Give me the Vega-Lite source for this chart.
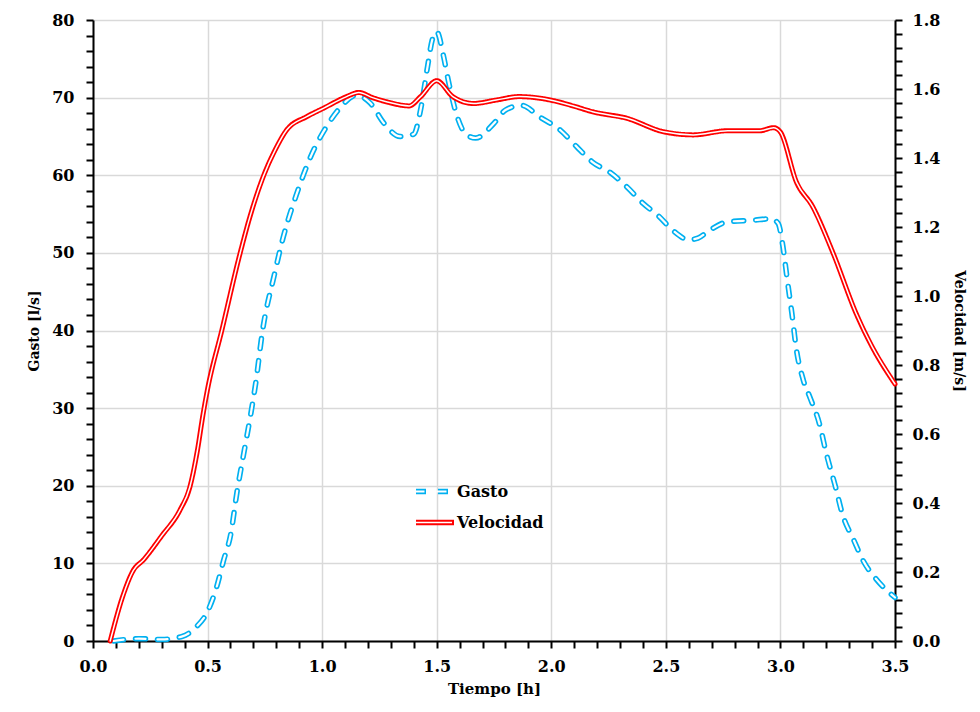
{
  "$schema": "https://vega.github.io/schema/vega-lite/v6.json",
  "width": 802,
  "height": 621,
  "autosize": {"type": "none"},
  "padding": {"left": 93, "top": 20, "right": 85, "bottom": 71},
  "background": "white",
  "config": {
    "view": {"stroke": null},
    "axis": {
      "labelFont": "DejaVu Serif", "labelFontSize": 16, "labelFontWeight": "bold", "labelColor": "#000", "labelFlush": false,
      "titleFont": "DejaVu Serif", "titleFontSize": 14, "titleFontWeight": "bold", "titleColor": "#000",
      "domainColor": "#000", "domainWidth": 2, "tickColor": "#000", "tickWidth": 2,
      "gridColor": "#d9d9d9", "gridWidth": 1.5
    },
    "legend": {"labelFont": "DejaVu Serif", "labelFontSize": 16, "labelFontWeight": "bold", "labelColor": "#000"}
  },
  "datasets": {
    "gasto": [
      {"t": 0.09, "g": 0}, {"t": 0.2, "g": 0.3}, {"t": 0.3, "g": 0.2}, {"t": 0.39, "g": 0.6},
      {"t": 0.45, "g": 1.8}, {"t": 0.5, "g": 3.8}, {"t": 0.54, "g": 7.0}, {"t": 0.57, "g": 10.4},
      {"t": 0.6, "g": 13.6}, {"t": 0.63, "g": 19.5}, {"t": 0.66, "g": 24.5}, {"t": 0.69, "g": 29.5},
      {"t": 0.71, "g": 33.2}, {"t": 0.74, "g": 40.0}, {"t": 0.79, "g": 47.0}, {"t": 0.83, "g": 52.0},
      {"t": 0.89, "g": 57.7}, {"t": 0.95, "g": 62.4}, {"t": 1.02, "g": 66.3}, {"t": 1.07, "g": 68.4},
      {"t": 1.15, "g": 70.3}, {"t": 1.21, "g": 69.3}, {"t": 1.27, "g": 66.7}, {"t": 1.34, "g": 65.0},
      {"t": 1.4, "g": 65.3}, {"t": 1.43, "g": 68.5}, {"t": 1.46, "g": 74.0}, {"t": 1.48, "g": 77.4},
      {"t": 1.5, "g": 78.5}, {"t": 1.53, "g": 75.3}, {"t": 1.55, "g": 72.3}, {"t": 1.59, "g": 67.5},
      {"t": 1.63, "g": 65.2}, {"t": 1.67, "g": 64.8}, {"t": 1.75, "g": 66.7}, {"t": 1.8, "g": 68.4},
      {"t": 1.87, "g": 69.0}, {"t": 1.95, "g": 67.5}, {"t": 2.04, "g": 65.8}, {"t": 2.11, "g": 63.7},
      {"t": 2.18, "g": 61.7}, {"t": 2.26, "g": 60.3}, {"t": 2.33, "g": 58.5}, {"t": 2.4, "g": 56.4},
      {"t": 2.47, "g": 54.7}, {"t": 2.53, "g": 52.9}, {"t": 2.6, "g": 51.7}, {"t": 2.64, "g": 51.9},
      {"t": 2.69, "g": 52.9}, {"t": 2.77, "g": 54.0}, {"t": 2.88, "g": 54.2}, {"t": 2.96, "g": 54.4},
      {"t": 2.99, "g": 53.8}, {"t": 3.01, "g": 51.0}, {"t": 3.03, "g": 46.5}, {"t": 3.05, "g": 42.2},
      {"t": 3.07, "g": 37.5}, {"t": 3.1, "g": 33.6}, {"t": 3.13, "g": 31.3}, {"t": 3.17, "g": 28.0},
      {"t": 3.2, "g": 24.2}, {"t": 3.24, "g": 19.9}, {"t": 3.27, "g": 16.4}, {"t": 3.32, "g": 13.0},
      {"t": 3.36, "g": 10.4}, {"t": 3.42, "g": 7.9}, {"t": 3.5, "g": 5.6}
    ],
    "vel": [
      {"t": 0.075, "v": 0}, {"t": 0.13, "v": 0.13}, {"t": 0.176, "v": 0.205}, {"t": 0.22, "v": 0.235},
      {"t": 0.3, "v": 0.305}, {"t": 0.38, "v": 0.38}, {"t": 0.423, "v": 0.447}, {"t": 0.455, "v": 0.55},
      {"t": 0.481, "v": 0.66}, {"t": 0.5, "v": 0.73}, {"t": 0.562, "v": 0.9}, {"t": 0.642, "v": 1.124},
      {"t": 0.685, "v": 1.23}, {"t": 0.743, "v": 1.346}, {"t": 0.8, "v": 1.43}, {"t": 0.845, "v": 1.481},
      {"t": 0.933, "v": 1.52}, {"t": 1.005, "v": 1.544}, {"t": 1.107, "v": 1.578}, {"t": 1.16, "v": 1.59},
      {"t": 1.22, "v": 1.575}, {"t": 1.28, "v": 1.563}, {"t": 1.38, "v": 1.551}, {"t": 1.43, "v": 1.578},
      {"t": 1.5, "v": 1.624}, {"t": 1.57, "v": 1.578}, {"t": 1.66, "v": 1.558}, {"t": 1.76, "v": 1.568},
      {"t": 1.86, "v": 1.578}, {"t": 2.01, "v": 1.566}, {"t": 2.1, "v": 1.55}, {"t": 2.18, "v": 1.534},
      {"t": 2.33, "v": 1.515}, {"t": 2.49, "v": 1.476}, {"t": 2.62, "v": 1.467}, {"t": 2.77, "v": 1.479},
      {"t": 2.91, "v": 1.479}, {"t": 2.97, "v": 1.488}, {"t": 3.0, "v": 1.475}, {"t": 3.07, "v": 1.33},
      {"t": 3.14, "v": 1.26}, {"t": 3.23, "v": 1.124}, {"t": 3.33, "v": 0.95}, {"t": 3.4, "v": 0.853},
      {"t": 3.5, "v": 0.745}
    ]
  },
  "encoding": {
    "x": {
      "field": "t", "type": "quantitative",
      "scale": {"domain": [0, 3.5], "nice": false, "zero": false},
      "axis": {
        "orient": "bottom",
        "title": "Tiempo [h]", "titleFontSize": 15, "titlePadding": 7,
        "values": [0,0.1,0.2,0.3,0.4,0.5,0.6,0.7,0.8,0.9,1,1.1,1.2,1.3,1.4,1.5,1.6,1.7,1.8,1.9,2,2.1,2.2,2.3,2.4,2.5,2.6,2.7,2.8,2.9,3,3.1,3.2,3.3,3.4,3.5],
        "format": ".1f",
        "labelExpr": "abs(datum.value*2 - round(datum.value*2)) < 0.001 ? datum.label : ''",
        "labelPadding": 10, "tickSize": 7,
        "grid": true,
        "gridOpacity": {"condition": {"test": "abs(datum.value*2 - round(datum.value*2)) < 0.001", "value": 1}, "value": 0},
        "encode": {
          "ticks": {
            "y": {"value": {"expr": "abs(datum.value*2 - round(datum.value*2)) < 0.001 ? -7 : -5"}},
            "y2": {"value": {"expr": "abs(datum.value*2 - round(datum.value*2)) < 0.001 ? 7 : 0"}}
          }
        }
      }
    }
  },
  "layer": [
    {
      "data": {"name": "gasto"},
      "encoding": {
        "y": {
          "field": "g", "type": "quantitative",
          "scale": {"domain": [0, 80], "nice": false},
          "axis": {
            "orient": "left", "title": "Gasto [l/s]", "titlePadding": 10,
            "values": [0,2,4,6,8,10,12,14,16,18,20,22,24,26,28,30,32,34,36,38,40,42,44,46,48,50,52,54,56,58,60,62,64,66,68,70,72,74,76,78,80],
            "labelExpr": "datum.value % 10 === 0 ? datum.label : ''",
            "labelPadding": 12, "tickSize": 7,
            "grid": true,
            "gridOpacity": {"condition": {"test": "datum.value % 10 === 0", "value": 1}, "value": 0},
            "encode": {
              "ticks": {
                "x": {"value": {"expr": "datum.value % 10 === 0 ? 7 : 5"}},
                "x2": {"value": {"expr": "datum.value % 10 === 0 ? -7 : 0"}}
              }
            }
          }
        }
      },
      "layer": [
        {
          "mark": {"type": "line", "interpolate": "monotone", "strokeWidth": 5.5, "strokeDash": [10, 12], "strokeCap": "round", "strokeJoin": "round"},
          "encoding": {
            "color": {"datum": "Gasto", "type": "nominal", "scale": {"domain": ["Gasto", "Velocidad"], "range": ["#00b0f0", "#ff0000"]},
              "legend": {"orient": "none", "legendX": 320, "legendY": 463, "title": null, "symbolType": "stroke", "symbolSize": 1444, "symbolStrokeWidth": 5.5, "clipHeight": 17, "rowPadding": 14, "labelOffset": 0}},
            "strokeDash": {"datum": "Gasto", "type": "nominal", "scale": {"domain": ["Gasto", "Velocidad"], "range": [[10, 12], [1, 0]]}, "legend": null}
          }
        },
        {
          "mark": {"type": "line", "interpolate": "monotone", "strokeWidth": 2.2, "strokeDash": [10, 12], "strokeCap": "round", "color": "white"},
          "encoding": {
            "opacity": {"datum": "G", "type": "nominal", "scale": {"domain": ["G"], "range": [1, 1]},
              "legend": {"orient": "none", "legendX": 320, "legendY": 463, "title": null, "symbolType": "stroke", "symbolSize": 1444, "symbolStrokeWidth": 2.2, "symbolStrokeColor": "white", "symbolDash": [10, 12], "clipHeight": 17, "labelOffset": 0, "labelExpr": "''"}}
          }
        }
      ]
    },
    {
      "data": {"name": "vel"},
      "encoding": {
        "y": {
          "field": "v", "type": "quantitative",
          "scale": {"domain": [0, 1.8], "nice": false},
          "axis": {
            "orient": "right", "title": "Velocidad [m/s]", "titlePadding": 12,
            "values": [0,0.04,0.08,0.12,0.16,0.2,0.24,0.28,0.32,0.36,0.4,0.44,0.48,0.52,0.56,0.6,0.64,0.68,0.72,0.76,0.8,0.84,0.88,0.92,0.96,1,1.04,1.08,1.12,1.16,1.2,1.24,1.28,1.32,1.36,1.4,1.44,1.48,1.52,1.56,1.6,1.64,1.68,1.72,1.76,1.8],
            "format": ".1f",
            "labelExpr": "abs(datum.value*5 - round(datum.value*5)) < 0.001 ? datum.label : ''",
            "labelPadding": 10, "tickSize": 7,
            "grid": false,
            "encode": {
              "ticks": {
                "x": {"value": {"expr": "abs(datum.value*5 - round(datum.value*5)) < 0.001 ? -7 : -5"}},
                "x2": {"value": {"expr": "abs(datum.value*5 - round(datum.value*5)) < 0.001 ? 7 : 0"}}
              }
            }
          }
        }
      },
      "layer": [
        {
          "mark": {"type": "line", "interpolate": "monotone", "strokeWidth": 5, "strokeCap": "round", "strokeJoin": "round"},
          "encoding": {
            "color": {"datum": "Velocidad", "type": "nominal"},
            "strokeDash": {"datum": "Velocidad", "type": "nominal", "legend": null}
          }
        },
        {
          "mark": {"type": "line", "interpolate": "monotone", "strokeCap": "round", "color": "white"},
          "encoding": {
            "strokeWidth": {"datum": "V", "type": "nominal", "scale": {"domain": ["V"], "range": [1.5, 1.5]},
              "legend": {"orient": "none", "legendX": 320, "legendY": 494, "title": null, "symbolType": "stroke", "symbolSize": 1444, "symbolStrokeColor": "white", "clipHeight": 17, "labelOffset": 0, "labelExpr": "''"}}
          }
        }
      ]
    }
  ],
  "resolve": {"scale": {"y": "independent"}}
}
